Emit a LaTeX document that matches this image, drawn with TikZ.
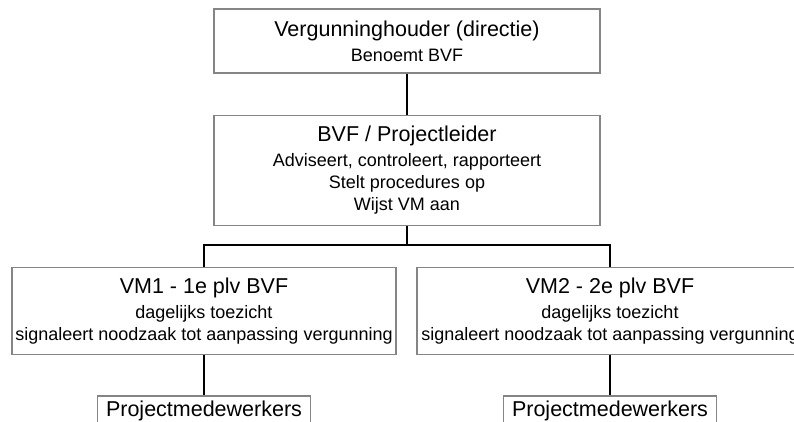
\documentclass[tikz,border=0pt]{standalone}
\usepackage{fontspec}
\setmainfont{Liberation Sans}
\definecolor{boxgray}{HTML}{858585}
\newcommand{\headfont}{\fontsize{21.5}{25}\selectfont}
\begin{document}
\begin{tikzpicture}[x=1pt, y=-1pt,
  box/.style={draw=boxgray, line width=1.5pt, fill=white, inner sep=0pt,
    align=center, font=\fontsize{18}{22}\selectfont},
  link/.style={draw=black, line width=1.2pt}]
\useasboundingbox (0,0) rectangle (794,421);
\clip (0,0) rectangle (794,421);

% management
\node[box, minimum width=386pt, minimum height=64pt] (top) at (407,41)
  {{\headfont Vergunninghouder (directie)}\\[3pt]Benoemt BVF};
\node[box, minimum width=386pt, minimum height=110pt] (bvf) at (407,170.5)
  {{\headfont BVF / Projectleider}\\[3pt]Adviseert, controleert, rapporteert\\
   Stelt procedures op\\Wijst VM aan};

% deputies
\node[box, minimum width=384pt, minimum height=87pt] (vm1) at (204,310.8)
  {{\headfont VM1 - 1e plv BVF}\\[3pt]dagelijks toezicht\\
   signaleert noodzaak tot aanpassing vergunning};
\node[box, minimum width=386pt, minimum height=87pt] (vm2) at (610,310.8)
  {{\headfont VM2 - 2e plv BVF}\\[3pt]dagelijks toezicht\\
   signaleert noodzaak tot aanpassing vergunning};

% staff
\node[box, minimum width=213pt, minimum height=30pt, font=\headfont] (pm1) at (204,411)
  {Projectmedewerkers};
\node[box, minimum width=213pt, minimum height=30pt, font=\headfont] (pm2) at (610,411)
  {Projectmedewerkers};

% connectors
\coordinate (bus) at (407,245);
\draw[link] (top.south) -- (bvf.north);
\draw[link] (bvf.south) -- (bus);
\draw[link] (vm1.north) |- (bus) -| (vm2.north);
\draw[link] (vm1.south) -- (pm1.north);
\draw[link] (vm2.south) -- (pm2.north);
\end{tikzpicture}
\end{document}
